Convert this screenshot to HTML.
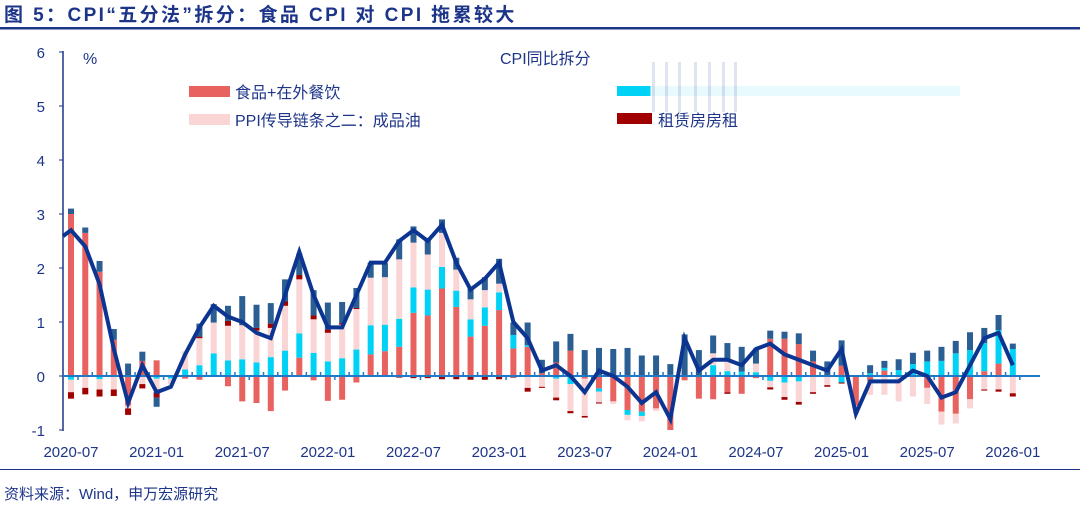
<!DOCTYPE html>
<html><head><meta charset="utf-8"><style>
body{margin:0;background:#fff;width:1080px;height:509px;overflow:hidden;font-family:"Liberation Sans","Noto Sans CJK SC",sans-serif;}
svg text{font-family:"Liberation Sans","Noto Sans CJK SC",sans-serif;}
</style></head><body>
<svg id="c" width="1080" height="509" viewBox="0 0 1080 509">
<text x="4" y="21" font-size="19" font-weight="bold" letter-spacing="2.4" fill="#1d3589">图 5：CPI“五分法”拆分：食品 CPI 对 CPI 拖累较大</text>
<rect x="0" y="27" width="1080" height="2.5" fill="#1d3589"/>
<rect x="0" y="469" width="1080" height="1" fill="#1d3589"/>
<text x="4" y="499" font-size="15" fill="#1d3589">资料来源：Wind，申万宏源研究</text>
<text x="83" y="64" font-size="16" fill="#1d3589">%</text>
<text x="500" y="64" font-size="16" fill="#1d3589">CPI同比拆分</text>
<g>
<rect x="189" y="86" width="41" height="11" fill="#e8625f"/>
<text x="235" y="98" font-size="16" fill="#1d3589">食品+在外餐饮</text>
<rect x="189" y="114" width="41" height="11" fill="#f9d5d5"/>
<text x="235" y="126" font-size="16" fill="#1d3589">PPI传导链条之二：成品油</text>
<rect x="617" y="86" width="34" height="10" fill="#00d2f5"/>
<rect x="650" y="86" width="310" height="10" fill="#d8f6fc" opacity="0.6"/>
<g opacity="0.15" fill="#3a4fa0">
<rect x="652" y="62" width="3" height="50"/><rect x="665" y="62" width="3" height="50"/><rect x="678" y="62" width="3" height="50"/><rect x="694" y="62" width="3" height="50"/><rect x="708" y="62" width="3" height="50"/><rect x="722" y="62" width="3" height="50"/><rect x="734" y="62" width="3" height="50"/>
</g>
<rect x="617" y="113" width="35" height="11" fill="#a00000"/>
<text x="658" y="126" font-size="16" fill="#1d3589">租赁房房租</text>
</g>
<g id="plot"></g>
</svg>
<script>
const months = ["2020-07","2020-08","2020-09","2020-10","2020-11","2020-12","2021-01","2021-02","2021-03","2021-04","2021-05","2021-06","2021-07","2021-08","2021-09","2021-10","2021-11","2021-12","2022-01","2022-02","2022-03","2022-04","2022-05","2022-06","2022-07","2022-08","2022-09","2022-10","2022-11","2022-12","2023-01","2023-02","2023-03","2023-04","2023-05","2023-06","2023-07","2023-08","2023-09","2023-10","2023-11","2023-12","2024-01","2024-02","2024-03","2024-04","2024-05","2024-06","2024-07","2024-08","2024-09","2024-10","2024-11","2024-12","2025-01","2025-02","2025-03","2025-04","2025-05","2025-06","2025-07","2025-08","2025-09","2025-10","2025-11","2025-12","2026-01"];
const food = [3.0,2.65,1.93,0.67,-0.55,0.28,0.29,0,-0.05,-0.07,0,-0.19,-0.47,-0.5,-0.65,-0.27,0.34,-0.08,-0.46,-0.44,-0.12,0.4,0.46,0.54,1.17,1.12,1.62,1.28,0.73,0.93,1.22,0.51,0.54,0.05,0.25,0.47,-0.05,-0.23,-0.47,-0.63,-0.66,-0.6,-1.0,-0.08,-0.42,-0.43,-0.3,-0.33,-0.04,0.69,0.69,0.59,0.27,0,0.19,-0.55,-0.1,0.1,-0.02,0,-0.22,-0.66,-0.7,-0.43,0.09,0.23,0];
const services = [-0.07,0,-0.06,0,0,0,-0.05,-0.05,0.12,0.2,0.42,0.29,0.31,0.25,0.35,0.47,0.45,0.43,0.27,0.33,0.49,0.54,0.49,0.52,0.47,0.48,0.4,0.3,0.32,0.34,0.33,0.25,0.03,0,-0.05,-0.15,0,-0.06,0,-0.09,-0.08,0,0,0,0,0.2,0.09,0.08,0.07,-0.09,-0.12,-0.1,0,0,-0.12,0,0.05,0.05,0.11,0.22,0.27,0.28,0.42,0.48,0.52,0.62,0.5];
const oil = [-0.23,-0.22,-0.19,-0.25,-0.05,-0.15,-0.25,-0.1,0.34,0.5,0.57,0.64,0.63,0.59,0.54,0.83,1.0,0.62,0.53,0.62,0.75,0.88,0.88,1.1,0.83,0.65,0.63,0.39,0.37,0.32,0.16,0,-0.22,-0.2,-0.35,-0.5,-0.69,-0.2,-0.05,-0.1,-0.1,-0.05,0,0,0,0.22,0.2,0,0.16,-0.12,-0.27,-0.38,-0.3,-0.17,0,-0.15,-0.25,-0.35,-0.45,-0.38,-0.3,-0.24,-0.18,-0.17,-0.25,-0.25,-0.32];
const rent = [-0.12,-0.12,-0.13,-0.12,-0.12,-0.08,-0.1,0,0,0.03,0,0.09,0,0.05,0.08,0.08,0.08,0.07,0.06,0.03,0.02,0,0,-0.03,-0.04,-0.04,-0.06,-0.06,-0.07,-0.07,-0.06,-0.03,-0.07,-0.02,-0.05,-0.04,-0.03,-0.02,0,0,0,0,0.02,0,0,0,-0.03,0,0,-0.04,-0.05,-0.05,-0.03,-0.03,-0.02,0,0,0,0,0,0,0,0,0,-0.02,-0.04,-0.06];
const core = [0.1,0.1,0.2,0.2,0.23,0.17,-0.17,0,0,0.24,0.34,0.28,0.54,0.43,0.38,0.41,0.4,0.47,0.5,0.39,0.37,0.28,0.26,0.37,0.3,0.29,0.25,0.22,0.22,0.24,0.46,0.23,0.42,0.25,0.39,0.31,0.48,0.52,0.5,0.52,0.38,0.38,0.2,0.77,0.48,0.33,0.32,0.46,0.28,0.15,0.13,0.2,0.2,0.27,0.47,0,0.15,0.13,0.2,0.21,0.2,0.26,0.23,0.33,0.28,0.28,0.1];
const cpi = [2.7,2.4,1.7,0.5,-0.5,0.2,-0.3,-0.2,0.4,0.9,1.3,1.1,1.0,0.8,0.7,1.5,2.3,1.5,0.9,0.9,1.5,2.1,2.1,2.5,2.7,2.5,2.8,2.1,1.6,1.8,2.1,1.0,0.7,0.1,0.2,0.0,-0.3,0.1,0.0,-0.2,-0.5,-0.3,-0.8,0.7,0.1,0.3,0.3,0.2,0.5,0.6,0.4,0.3,0.2,0.1,0.5,-0.7,-0.1,-0.1,-0.1,0.1,0.0,-0.4,-0.3,0.2,0.7,0.8,0.2];
const cpiPrev = 2.5;
const yTicks = [-1,0,1,2,3,4,5,6];
const xLabels = ["2020-07","2021-01","2021-07","2022-01","2022-07","2023-01","2023-07","2024-01","2024-07","2025-01","2025-07","2026-01"];

const NS="http://www.w3.org/2000/svg";
const plot=document.getElementById('plot');
const x=i=>71+i*14.27;
const y=v=>376-v*54;
function mk(tag,attrs,parent){const e=document.createElementNS(NS,tag);for(const k in attrs)e.setAttribute(k,attrs[k]);(parent||plot).appendChild(e);return e;}
let ax=mk('line',{x1:63,y1:51,x2:63,y2:431,stroke:'#1d3589','stroke-width':1.5});


yTicks.forEach(t=>{
  let tk=mk('line',{x1:59,y1:y(t),x2:63,y2:y(t),stroke:'#1d3589','stroke-width':1});
  
  
  let tx=mk('text',{x:45,y:y(t)+6,'font-size':15,fill:'#1d3589','text-anchor':'end'});
  tx.textContent=t;
  
  
});
const series=[[food,'#e8625f','food'],[services,'#00d2f5','services'],[oil,'#f9d5d5','oil'],[rent,'#a00000','rent'],[core,'#2b5f93','core']];
months.forEach((m,i)=>{
  let pos=0,neg=0;
  series.forEach(([arr,col,nm])=>{
    const v=arr[i]; if(!v) return;
    let top,h;
    if(v>0){top=y(pos+v);h=y(pos)-top;pos+=v;}else{top=y(neg);h=y(neg+v)-top;neg+=v;}
    let r=mk('rect',{x:x(i)-3,y:top,width:6,height:h,fill:col});
    
    
  });
});
let z=mk('line',{x1:63,y1:376,x2:1040,y2:376,stroke:'#1f78c8','stroke-width':2});


months.forEach((m,i)=>{
  const big=(i%6===0);
  let t=mk('line',{x1:x(i)+7,y1:376,x2:x(i)+7,y2:big?380:372,stroke:'#1f78c8','stroke-width':1.5});
  
  
});
xLabels.forEach(l=>{
  const i=months.indexOf(l);
  let t=mk('text',{x:x(i),y:457,'font-size':15,fill:'#1d3589','text-anchor':'middle'});
  t.textContent=l;
  
  
});
let pts=[[63,y(cpiPrev)+ (y(cpi[0])-y(cpiPrev))*0.45]].concat(cpi.map((v,i)=>[x(i),y(v)]));
let pl=mk('polyline',{points:pts.map(p=>p.join(',')).join(' '),fill:'none',stroke:'#0b3591','stroke-width':4,'stroke-linejoin':'miter'});


</script>
</body></html>
